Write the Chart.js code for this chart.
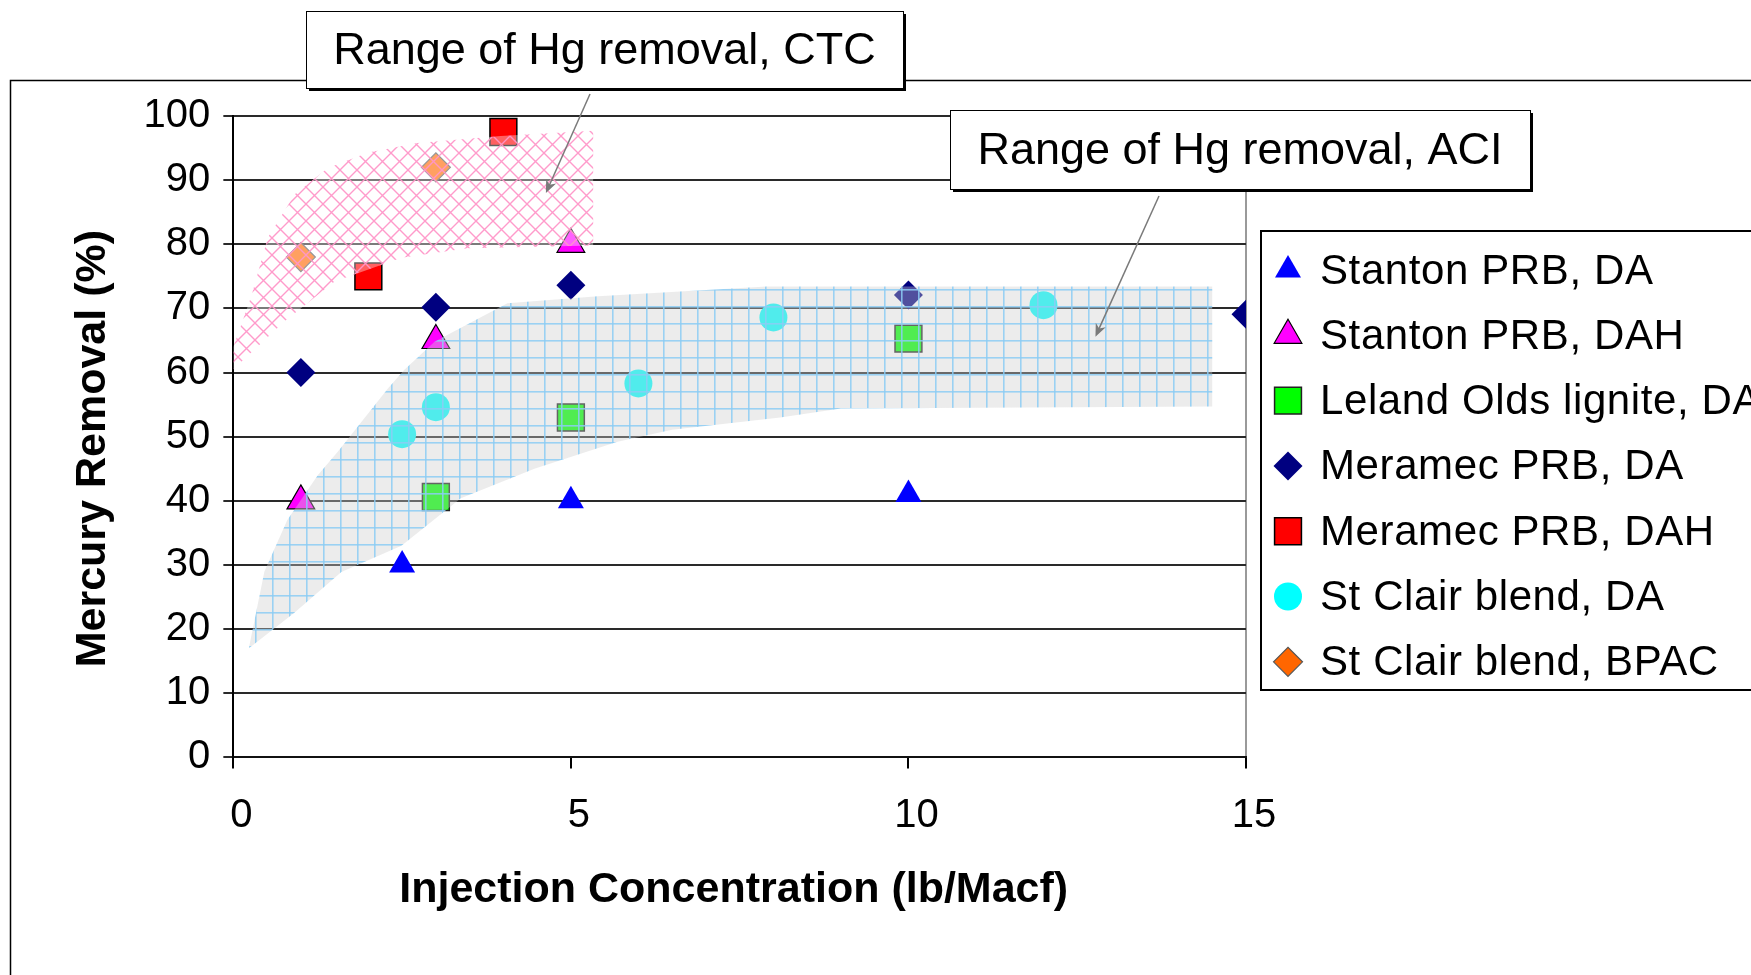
<!DOCTYPE html>
<html>
<head>
<meta charset="utf-8">
<title>Mercury removal vs injection concentration</title>
<script src="https://cdn.jsdelivr.net/npm/chart.js@4.4.1/dist/chart.umd.min.js"></script>
<style>
  html, body { margin: 0; padding: 0; background: #fff; }
  canvas { display: block; }
</style>
</head>
<body>
<canvas id="myChart" width="1751" height="975"></canvas>
<script>
// Legend labels, in legend order
const seriesNames = [
    "Stanton PRB, DA",
    "Stanton PRB, DAH",
    "Leland Olds lignite, DA",
    "Meramec PRB, DA",
    "Meramec PRB, DAH",
    "St Clair blend, DA",
    "St Clair blend, BPAC"
];

// Measured points: x = injection concentration (lb/Macf), y = mercury removal (%)
const stantonDaX = [2.5, 5, 10];
const stantonDaY = [30, 40, 41];
const stantonDahX = [1, 3, 5];
const stantonDahY = [40, 65, 80];
const lelandDaX = [3, 5, 10];
const lelandDaY = [40.6, 53, 65.3];
const meramecDaX = [1, 3, 5, 10, 15];
const meramecDaY = [60, 70.2, 73.6, 72.1, 69.1];
const meramecDahX = [2, 4];
const meramecDahY = [75, 97.5];
const stClairDaX = [2.5, 3, 6, 8, 12];
const stClairDaY = [50.4, 54.6, 58.3, 68.6, 70.5];
const stClairBpacX = [1, 3];
const stClairBpacY = [78, 92];

// Outline of the shaded ranges (upper edge left to right, then lower edge back)
const ctcRangeX = [0, 0.27, 0.51, 0.91, 1.4, 2, 2.73, 3.96, 5.33, 5.33, 3.47, 2.49, 1.5, 0.76, 0];
const ctcRangeY = [64, 72, 81, 87.8, 91.9, 94.3, 95.8, 96.9, 97.7, 79.8, 79.4, 77.9, 74.2, 68, 60.5];
const aciRangeX = [0.23, 0.46, 0.8, 1.25, 1.55, 2.29, 2.53, 2.98, 3.82, 4.06, 5.4, 7.9, 14.5,
                   14.5, 9, 8.1, 6.5, 5.69, 4.46, 3.37, 2.49, 1.6, 0.9, 0.23];
const aciRangeY = [17, 29, 37, 44, 47.7, 57.5, 60.4, 64.8, 69.5, 70.8, 71.9, 73.4, 73.4,
                   54.7, 54.4, 53, 51.1, 49.2, 45, 40.4, 33, 28.9, 22.5, 17];

// Where the two callout arrows point (data units)
const ctcArrowHead = [4.63, 88];
const aciArrowHead = [12.77, 65.6];

// Axis ticks
const xTicks = [0, 5, 10, 15];
const yTicks = [0, 10, 20, 30, 40, 50, 60, 70, 80, 90, 100];

const fontFamily = "'Liberation Sans', Arial, sans-serif";

function toPoints(xs, ys) {
    return xs.map((x, i) => ({ x: x, y: ys[i] }));
}

// Hatch patterns for the two ranges
function makeGridPattern() {
    const c = document.createElement("canvas");
    c.width = 17;
    c.height = 17;
    const g = c.getContext("2d");
    g.fillStyle = "rgba(205, 205, 205, 0.39)";
    g.fillRect(0, 0, 17, 17);
    g.fillStyle = "rgba(140, 205, 245, 0.85)";
    g.fillRect(0, 0, 17, 1.6);
    g.fillRect(0, 0, 1.6, 17);
    return g.createPattern(c, "repeat");
}

function makeCrossPattern() {
    const c = document.createElement("canvas");
    c.width = 17;
    c.height = 17;
    const g = c.getContext("2d");
    g.fillStyle = "rgba(255, 255, 255, 0.38)";
    g.fillRect(0, 0, 17, 17);
    g.strokeStyle = "rgba(255, 150, 200, 0.95)";
    g.lineWidth = 1.4;
    g.beginPath();
    g.moveTo(-2, -2); g.lineTo(19, 19);
    g.moveTo(19, -2); g.lineTo(-2, 19);
    g.stroke();
    return g.createPattern(c, "repeat");
}

function drawMarker(ctx, style, x, y, r, fill, stroke, lw) {
    ctx.beginPath();
    if (style === "triangle") {
        for (let k = 0; k < 3; k++) {
            const a = k * 2 * Math.PI / 3;
            const px = x + Math.sin(a) * r;
            const py = y - Math.cos(a) * r;
            if (k === 0) ctx.moveTo(px, py); else ctx.lineTo(px, py);
        }
    } else if (style === "rect") {
        const s = r * Math.SQRT1_2;
        ctx.rect(x - s, y - s, 2 * s, 2 * s);
    } else if (style === "rectRot") {
        ctx.moveTo(x - r, y);
        ctx.lineTo(x, y - r);
        ctx.lineTo(x + r, y);
        ctx.lineTo(x, y + r);
    } else {
        ctx.arc(x, y, r, 0, Math.PI * 2);
    }
    ctx.closePath();
    ctx.fillStyle = fill;
    ctx.fill();
    if (lw > 0) {
        ctx.strokeStyle = stroke;
        ctx.lineWidth = lw;
        ctx.stroke();
    }
}

function callout(ctx, text, x, y, w, h) {
    ctx.fillStyle = "#fff";
    ctx.fillRect(x, y, w, h);
    ctx.strokeStyle = "#000";
    ctx.lineWidth = 1;
    ctx.strokeRect(x + 0.5, y + 0.5, w, h);
    // heavier shadow edge on the right and bottom
    ctx.lineWidth = 2;
    ctx.beginPath();
    ctx.moveTo(x + w + 2, y + 3);
    ctx.lineTo(x + w + 2, y + h + 2);
    ctx.lineTo(x + 3, y + h + 2);
    ctx.stroke();
    ctx.fillStyle = "#000";
    ctx.font = "45px " + fontFamily;
    ctx.textAlign = "center";
    ctx.textBaseline = "middle";
    ctx.fillText(text, x + w / 2, y + h / 2 + 2);
}

function arrow(ctx, x1, y1, x2, y2) {
    const ang = Math.atan2(y2 - y1, x2 - x1);
    ctx.strokeStyle = "#7a7a7a";
    ctx.fillStyle = "#7a7a7a";
    ctx.lineWidth = 1.5;
    ctx.beginPath();
    ctx.moveTo(x1, y1);
    ctx.lineTo(x2 - Math.cos(ang) * 6, y2 - Math.sin(ang) * 6);
    ctx.stroke();
    ctx.beginPath();
    ctx.moveTo(x2, y2);
    ctx.lineTo(x2 - Math.cos(ang - 0.4) * 14, y2 - Math.sin(ang - 0.4) * 14);
    ctx.lineTo(x2 - Math.cos(ang) * 9, y2 - Math.sin(ang) * 9);
    ctx.lineTo(x2 - Math.cos(ang + 0.4) * 14, y2 - Math.sin(ang + 0.4) * 14);
    ctx.closePath();
    ctx.fill();
}

// Outer frame, callouts and legend drawn around the chart
const decorations = {
    id: "decorations",
    beforeDraw(chart) {
        const ctx = chart.ctx;
        ctx.save();
        ctx.strokeStyle = "#000";
        ctx.lineWidth = 1.5;
        ctx.strokeRect(10.5, 80.5, 1800, 1000);
        ctx.restore();
    },
    afterDraw(chart) {
        const ctx = chart.ctx;
        const xs = chart.scales.x;
        const ys = chart.scales.y;
        ctx.save();

        callout(ctx, "Range of Hg removal, CTC", 306, 11, 597, 77);
        callout(ctx, "Range of Hg removal, ACI", 950, 110, 580, 79);
        arrow(ctx, 590, 94, xs.getPixelForValue(ctcArrowHead[0]), ys.getPixelForValue(ctcArrowHead[1]));
        arrow(ctx, 1159, 196, xs.getPixelForValue(aciArrowHead[0]), ys.getPixelForValue(aciArrowHead[1]));

        // legend
        const lx = 1261, ly = 231, rowH = 65.3;
        ctx.fillStyle = "#fff";
        ctx.fillRect(lx, ly, 600, 459);
        ctx.strokeStyle = "#000";
        ctx.lineWidth = 2;
        ctx.strokeRect(lx, ly, 600, 459);
        ctx.font = "42px " + fontFamily;
        ctx.letterSpacing = "0.6px";
        ctx.textAlign = "left";
        ctx.textBaseline = "middle";
        const items = chart.data.datasets.filter(ds => !ds.isRange);
        items.forEach((ds, i) => {
            const cy = ly + 39 + i * rowH;
            drawMarker(ctx, ds.pointStyle, lx + 27, cy, ds.pointRadius,
                ds.pointBackgroundColor, ds.pointBorderColor, ds.pointBorderWidth);
            ctx.fillStyle = "#000";
            ctx.fillText(ds.label, lx + 59, cy + 2);
        });
        ctx.restore();
    }
};

const ctcFill = makeCrossPattern();
const aciFill = makeGridPattern();

const datasets = [
    {
        label: "ACI range", isRange: true, type: "line",
        data: toPoints(aciRangeX, aciRangeY),
        showLine: true, fill: "shape", backgroundColor: aciFill,
        borderWidth: 0, pointRadius: 0, tension: 0, order: -1
    },
    {
        label: "CTC range", isRange: true, type: "line",
        data: toPoints(ctcRangeX, ctcRangeY),
        showLine: true, fill: "shape", backgroundColor: ctcFill,
        borderWidth: 0, pointRadius: 0, tension: 0, order: -1
    },
    {
        label: seriesNames[0], data: toPoints(stantonDaX, stantonDaY),
        pointStyle: "triangle", pointRadius: 15,
        pointBackgroundColor: "#0000ff", pointBorderColor: "#0000ff", pointBorderWidth: 0
    },
    {
        label: seriesNames[1], data: toPoints(stantonDahX, stantonDahY),
        pointStyle: "triangle", pointRadius: 16,
        pointBackgroundColor: "#ff00ff", pointBorderColor: "#000", pointBorderWidth: 1.2
    },
    {
        label: seriesNames[2], data: toPoints(lelandDaX, lelandDaY),
        pointStyle: "rect", pointRadius: 19,
        pointBackgroundColor: "#00ff00", pointBorderColor: "#222", pointBorderWidth: 1.5
    },
    {
        label: seriesNames[3], data: toPoints(meramecDaX, meramecDaY),
        pointStyle: "rectRot", pointRadius: 14.5,
        pointBackgroundColor: "#000080", pointBorderColor: "#000080", pointBorderWidth: 0
    },
    {
        label: seriesNames[4], data: toPoints(meramecDahX, meramecDahY),
        pointStyle: "rect", pointRadius: 19,
        pointBackgroundColor: "#ff0000", pointBorderColor: "#000", pointBorderWidth: 1.5
    },
    {
        label: seriesNames[5], data: toPoints(stClairDaX, stClairDaY),
        pointStyle: "circle", pointRadius: 14,
        pointBackgroundColor: "#00ffff", pointBorderColor: "#00ffff", pointBorderWidth: 0
    },
    {
        label: seriesNames[6], data: toPoints(stClairBpacX, stClairBpacY),
        pointStyle: "rectRot", pointRadius: 14.5,
        pointBackgroundColor: "#ff6600", pointBorderColor: "#555", pointBorderWidth: 1.2
    }
];

const myChart = new Chart(document.getElementById("myChart"), {
    type: "scatter",
    data: { datasets: datasets },
    options: {
        responsive: false,
        devicePixelRatio: 1,
        animation: false,
        layout: { padding: { left: 51, right: 505, top: 116, bottom: 59 } },
        plugins: {
            legend: { display: false },
            tooltip: { enabled: false }
        },
        scales: {
            x: {
                type: "linear",
                min: 0,
                max: 15,
                afterBuildTicks: scale => { scale.ticks = xTicks.map(v => ({ value: v })); },
                ticks: {
                    color: "#000",
                    font: { family: fontFamily, size: 40 },
                    padding: 24,
                    labelOffset: 8,
                    maxRotation: 0
                },
                grid: {
                    color: c => (c.tick && c.tick.value === 15 ? "#9a9a9a" : "rgba(0,0,0,0)"),
                    lineWidth: 2,
                    tickColor: "#000",
                    tickLength: 11
                },
                border: { display: true, color: "#111", width: 2 },
                title: {
                    display: true,
                    text: "Injection Concentration (lb/Macf) ",
                    color: "#000",
                    font: { family: fontFamily, size: 43, weight: "bold" },
                    padding: { top: 0, bottom: 0 }
                }
            },
            y: {
                type: "linear",
                min: 0,
                max: 100,
                afterBuildTicks: scale => { scale.ticks = yTicks.map(v => ({ value: v })); },
                ticks: {
                    color: "#000",
                    font: { family: fontFamily, size: 40 },
                    padding: 13
                },
                grid: {
                    color: "#2a2a2a",
                    lineWidth: 2,
                    tickColor: "#2a2a2a",
                    tickLength: 10
                },
                border: { display: true, color: "#000", width: 2 },
                title: {
                    display: true,
                    text: "Mercury Removal (%)  ",
                    color: "#000",
                    font: { family: fontFamily, size: 43, weight: "bold" },
                    padding: { top: 16, bottom: 12 }
                }
            }
        }
    },
    plugins: [decorations]
});
</script>
</body>
</html>
